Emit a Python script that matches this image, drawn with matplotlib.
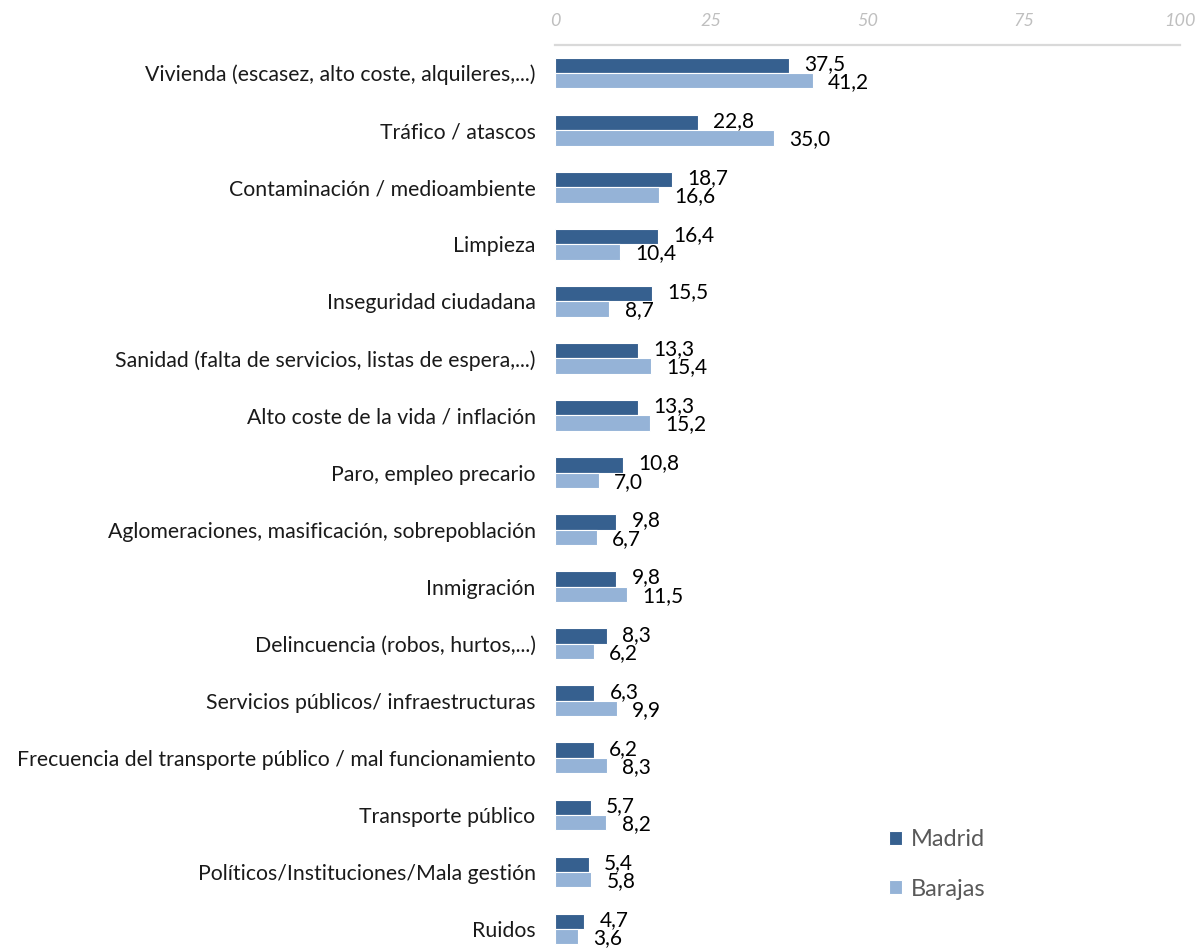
import matplotlib.pyplot as plt
import numpy as np
# ------------------------------ #

categories = [
	'Vivienda (escasez, alto coste, alquileres,...)',
	'Tráfico / atascos',
	'Contaminación / medioambiente',
	'Limpieza',
	'Inseguridad ciudadana',
	'Sanidad (falta de servicios, listas de espera,...)',
	'Alto coste de la vida / inflación',
	'Paro, empleo precario',
	'Aglomeraciones, masificación, sobrepoblación',
	'Inmigración',
	'Delincuencia (robos, hurtos,...)',
	'Servicios públicos/ infraestructuras',
	'Frecuencia del transporte público / mal funcionamiento',
	'Transporte público',
	'Políticos/Instituciones/Mala gestión',
	'Ruidos',
]
madrid = [37.5, 22.8, 18.7, 16.4, 15.5, 13.3, 13.3, 10.8, 9.8, 9.8, 8.3, 6.3, 6.2, 5.7, 5.4, 4.7]
barajas = [41.2, 35.0, 16.6, 10.4, 8.7, 15.4, 15.2, 7.0, 6.7, 11.5, 6.2, 9.9, 8.3, 8.2, 5.8, 3.6]
xticks = [0, 25, 50, 75, 100]
# ------------------------------ #

plt.rcParams['font.family'] = ['Lato', 'DejaVu Sans']

colMadrid = '#36608F'
colBarajas = '#95B3D7'

W, H = 1198, 948
fig = plt.figure(figsize = (W / 100, H / 100), dpi = 100)

axTop = 44.5
axBot = axTop + 16 * 57.07
ax = fig.add_axes([555 / W, 1 - axBot / H, (1180 - 555) / W, (axBot - axTop) / H])

y = np.arange(len(categories))
bh = 0.27

barsM = ax.barh(y - bh / 2, madrid, height = bh, color = colMadrid, edgecolor = 'white', linewidth = 0.8)
barsB = ax.barh(y + bh / 2, barajas, height = bh, color = colBarajas, edgecolor = 'white', linewidth = 0.8)

for bars, vals, dy in [(barsM, madrid, 1), (barsB, barajas, -1)]:
	for rect, v in zip(bars, vals):
		ax.annotate(
			f'{v:.1f}'.replace('.', ','),
			xy = (rect.get_width(), rect.get_y() + rect.get_height() / 2),
			xytext = (11, dy),
			textcoords = 'offset points',
			ha = 'left', va = 'center',
			fontsize = 15, color = 'black',
		)

ax.set_xlim(0, 100)
ax.set_ylim(len(categories) - 0.5, -0.5)
ax.set_yticks(y)
ax.set_yticklabels(categories, fontsize = 15.3, color = '#1a1a1a')
ax.tick_params(axis = 'y', length = 0, pad = 14)

ax.xaxis.tick_top()
ax.set_xticks(xticks)
ax.set_xticklabels([str(t) for t in xticks], fontsize = 13, color = '#BFBFBF', style = 'italic')
ax.tick_params(axis = 'x', length = 0, pad = 11)

for s in ['right', 'bottom', 'left']:
	ax.spines[s].set_visible(False)
ax.spines['top'].set_color('#D9D9D9')
ax.spines['top'].set_linewidth(1.6)

leg = fig.legend(
	[barsM, barsB], ['Madrid', 'Barajas'],
	loc = 'upper left', bbox_to_anchor = (868 / W, 1 - 808 / H),
	frameon = False, fontsize = 17, labelcolor = '#595959',
	handlelength = 0.55, handleheight = 0.55, handletextpad = 0.35, labelspacing = 1.2,
)

plt.savefig('out.png', format = 'png', dpi = 100)
